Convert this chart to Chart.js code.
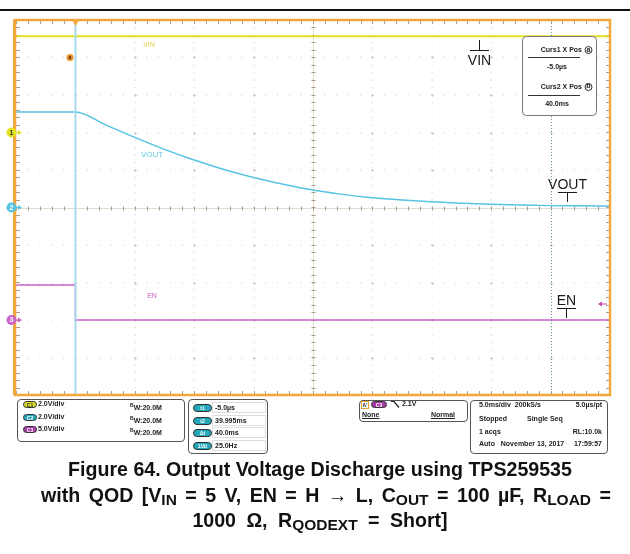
<!DOCTYPE html>
<html>
<head>
<meta charset="utf-8">
<script src="https://cdn.jsdelivr.net/npm/chart.js@4"></script>
<style>
  body { margin: 0; background: #fff; font-family: "Liberation Sans", Arial, sans-serif; }
  #wrap { position: relative; width: 630px; height: 554px; overflow: hidden; }
  #scope { position: absolute; left: 0; top: 0; }
  #topline { position: absolute; left: 0; top: 9px; width: 630px; height: 2px; background: #111; }
  .box { position: absolute; border: 1px solid #555; border-radius: 4px; background: #fff; box-sizing: border-box; }
  .t { position: absolute; font-size: 7px; font-weight: bold; color: #222; white-space: nowrap; line-height: 8px; }
  .r { text-align: right; }
  .pill { position: absolute; height: 7px; border-radius: 4px; font-size: 5px; color: #fff; text-align: center;
          line-height: 7px; font-weight: bold; box-sizing: border-box; border: 1px solid #333; }
  .field { position: absolute; height: 11px; border: 1px solid #ddd; box-sizing: border-box; }
  #caption { position: absolute; left: 0; top: 457px; width: 640px; text-align: center; font-weight: bold;
             font-size: 19.6px; line-height: 25.5px; color: #111; white-space: nowrap; }
  #caption sub { font-size: 15.5px; vertical-align: -3px; line-height: 0; }
  #caption .l2 { word-spacing: 3px; position: relative; left: 6px; }
  #caption .l3 { word-spacing: 5px; }
</style>
</head>
<body>
<div id="wrap">
  <canvas id="scope" width="630" height="554"></canvas>
  <div id="topline"></div>

  <!-- channel settings -->
  <div class="box" style="left:17px;top:399px;width:168px;height:43px;"></div>
  <div class="pill" style="left:23px;top:401px;width:14px;background:#d6d82c;color:#333;">C1</div>
  <div class="t" style="left:38px;top:400px;">2.0V/div</div>
  <div class="t" style="left:130px;top:401px;"><span style="font-size:5px;vertical-align:3px;">B</span>W:20.0M</div>
  <div class="pill" style="left:23px;top:414px;width:14px;background:#25a9ba;">C2</div>
  <div class="t" style="left:38px;top:413px;">2.0V/div</div>
  <div class="t" style="left:130px;top:414px;"><span style="font-size:5px;vertical-align:3px;">B</span>W:20.0M</div>
  <div class="pill" style="left:23px;top:426px;width:14px;background:#a63aa6;">C3</div>
  <div class="t" style="left:38px;top:425px;">5.0V/div</div>
  <div class="t" style="left:130px;top:426px;"><span style="font-size:5px;vertical-align:3px;">B</span>W:20.0M</div>

  <!-- cursor readouts -->
  <div class="box" style="left:188px;top:399px;width:80px;height:55px;"></div>
  <div class="field" style="left:212px;top:402px;width:54px;"></div>
  <div class="field" style="left:212px;top:415px;width:54px;"></div>
  <div class="field" style="left:212px;top:427px;width:54px;"></div>
  <div class="field" style="left:212px;top:440px;width:54px;"></div>
  <div class="pill" style="left:193px;top:404px;width:19px;height:8px;background:#25a9ba;">t1</div>
  <div class="t" style="left:215px;top:404px;">-5.0µs</div>
  <div class="pill" style="left:193px;top:417px;width:19px;height:8px;background:#25a9ba;">t2</div>
  <div class="t" style="left:215px;top:417px;">39.995ms</div>
  <div class="pill" style="left:193px;top:429px;width:19px;height:8px;background:#25a9ba;">Δt</div>
  <div class="t" style="left:215px;top:429px;">40.0ms</div>
  <div class="pill" style="left:193px;top:442px;width:19px;height:8px;background:#25a9ba;">1/Δt</div>
  <div class="t" style="left:215px;top:442px;">25.0Hz</div>

  <!-- trigger -->
  <div class="box" style="left:359px;top:400px;width:109px;height:22px;"></div>
  <div class="t" style="left:361px;top:401px;width:8px;height:8px;border:1px solid #f0a030;font-size:5px;line-height:7px;box-sizing:border-box;text-align:center;">A'</div>
  <div class="pill" style="left:371px;top:401px;width:16px;background:#a63aa6;">C3</div>
  <svg style="position:absolute;left:390px;top:400px;" width="12" height="9"><path d="M1 1.5 H4 L9 7.5" stroke="#222" stroke-width="1.2" fill="none"/></svg>
  <div class="t" style="left:402px;top:400px;">2.1V</div>
  <div class="t" style="left:362px;top:411px;text-decoration:underline;">None</div>
  <div class="t r" style="left:420px;top:411px;width:35px;text-decoration:underline;">Normal</div>

  <!-- acquisition -->
  <div class="box" style="left:470px;top:400px;width:138px;height:54px;"></div>
  <div class="t" style="left:479px;top:401px;">5.0ms/div&nbsp; 200kS/s</div>
  <div class="t r" style="left:552px;top:401px;width:50px;">5.0µs/pt</div>
  <div class="t" style="left:479px;top:415px;">Stopped</div>
  <div class="t" style="left:527px;top:415px;">Single Seq</div>
  <div class="t" style="left:479px;top:428px;">1 acqs</div>
  <div class="t r" style="left:552px;top:428px;width:50px;">RL:10.0k</div>
  <div class="t" style="left:479px;top:440px;">Auto&nbsp;&nbsp; November 13, 2017</div>
  <div class="t r" style="left:552px;top:440px;width:50px;">17:59:57</div>

  <div id="caption">Figure 64. Output Voltage Discharge using TPS259535<br><span class="l2">with QOD [V<sub>IN</sub> = 5 V, EN = H → L, C<sub>OUT</sub> = 100 µF, R<sub>LOAD</sub> =</span><br><span class="l3">1000 Ω, R<sub>QODEXT</sub> = Short]</span></div>
</div>

<script>
// time axis in ms, 5 ms/div, 10 divisions
const xMin = -5, xMax = 45;
const divisions = [-5, 5];

// channel setup: VIN, VOUT, EN
const channelNames = ["VIN", "VOUT", "EN"];
const voltsPerDiv = [2, 2, 5];
const offsetDiv = [2, 0, -3];
const channelColors = ["#e3df22", "#56c3e3", "#cc63c8"];

// VIN (ch1) stays flat
const vinTime = [-5, 45];
const vinV = [5.14, 5.14];

// VOUT (ch2) discharge after EN goes low
const voutTime = [-5, 0, 2.5, 5, 7.5, 10, 12.5, 15, 17.5, 20, 22.5, 25, 27.5, 30, 32.5, 35, 37.5, 40, 42.5, 45];
const voutV = [5.1, 5.1, 4.42, 3.74, 3.1, 2.53, 2.03, 1.6, 1.24, 0.93, 0.7, 0.52, 0.4, 0.31, 0.23, 0.17, 0.13, 0.1, 0.09, 0.08];

// EN (ch3) high -> low at t = 0
const enTime = [-5, 0, 0, 45];
const enV = [4.67, 4.67, 0, 0];

// cursor positions (ms)
const cursors = [-0.005, 40];

function toDiv(times, volts, ch) {
    return times.map((t, i) => ({ x: t, y: volts[i] / voltsPerDiv[ch] + offsetDiv[ch] }));
}

function roundRect(ctx, x, y, w, h, r) {
    ctx.beginPath();
    ctx.moveTo(x + r, y);
    ctx.arcTo(x + w, y, x + w, y + h, r);
    ctx.arcTo(x + w, y + h, x, y + h, r);
    ctx.arcTo(x, y + h, x, y, r);
    ctx.arcTo(x, y, x + w, y, r);
    ctx.closePath();
}

const graticule = {
    id: "graticule",
    beforeDatasetsDraw(chart) {
        const { ctx, chartArea: a } = chart;
        const xs = chart.scales.x, ys = chart.scales.y;
        ctx.save();
        // dotted grid
        ctx.fillStyle = "#d6d6d6";
        for (let t = xMin + 5; t < xMax; t += 5) {
            const px = Math.round(xs.getPixelForValue(t));
            for (let v = divisions[0]; v <= divisions[1] + 0.01; v += 0.2) {
                ctx.fillRect(px - 0.5, ys.getPixelForValue(v) - 0.5, 1.2, 1.2);
            }
        }
        for (let d = divisions[0] + 1; d < divisions[1]; d++) {
            const py = Math.round(ys.getPixelForValue(d));
            for (let t = xMin; t <= xMax; t += 1) {
                ctx.fillRect(xs.getPixelForValue(t) - 0.5, py - 0.5, 1.2, 1.2);
            }
        }
        // small crosses at intersections
        ctx.strokeStyle = "#cfcfcf";
        ctx.lineWidth = 1;
        for (let t = xMin + 5; t < xMax; t += 5) {
            for (let d = divisions[0] + 1; d < divisions[1]; d++) {
                const px = Math.round(xs.getPixelForValue(t)) + 0.5, py = Math.round(ys.getPixelForValue(d)) + 0.5;
                ctx.beginPath();
                ctx.moveTo(px - 1.5, py); ctx.lineTo(px + 1.5, py);
                ctx.moveTo(px, py - 1.5); ctx.lineTo(px, py + 1.5);
                ctx.stroke();
            }
        }
        // centre lines with ticks
        const cx = Math.round(xs.getPixelForValue(20)) + 0.5;
        const cy = Math.round(ys.getPixelForValue(0)) + 0.5;
        ctx.strokeStyle = "#e2dcd2";
        ctx.beginPath();
        ctx.moveTo(a.left, cy); ctx.lineTo(a.right, cy);
        ctx.moveTo(cx, a.top); ctx.lineTo(cx, a.bottom);
        ctx.stroke();
        ctx.strokeStyle = "#a89d8c";
        ctx.beginPath();
        for (let t = xMin; t <= xMax; t += 1) {
            const px = Math.round(xs.getPixelForValue(t)) + 0.5;
            ctx.moveTo(px, cy - 2); ctx.lineTo(px, cy + 2);
            ctx.moveTo(px, a.top); ctx.lineTo(px, a.top + 4);
            ctx.moveTo(px, a.bottom); ctx.lineTo(px, a.bottom - 4);
        }
        for (let v = divisions[0]; v <= divisions[1] + 0.01; v += 0.2) {
            const py = Math.round(ys.getPixelForValue(v)) + 0.5;
            ctx.moveTo(cx - 2, py); ctx.lineTo(cx + 2, py);
            ctx.moveTo(a.left, py); ctx.lineTo(a.left + 4, py);
            ctx.moveTo(a.right, py); ctx.lineTo(a.right - 4, py);
        }
        ctx.stroke();
        ctx.restore();
    },
    afterDatasetsDraw(chart) {
        const { ctx, chartArea: a } = chart;
        const xs = chart.scales.x, ys = chart.scales.y;
        ctx.save();

        // cursors
        const c1 = Math.round(xs.getPixelForValue(cursors[0])) + 0.5;
        const c2 = Math.round(xs.getPixelForValue(cursors[1])) + 0.5;
        ctx.strokeStyle = "#a9dbee";
        ctx.lineWidth = 2;
        ctx.beginPath(); ctx.moveTo(c1, a.top); ctx.lineTo(c1, a.bottom); ctx.stroke();
        ctx.strokeStyle = "#6f97a3";
        ctx.lineWidth = 1;
        ctx.setLineDash([1, 2]);
        ctx.beginPath(); ctx.moveTo(c2, a.top); ctx.lineTo(c2, a.bottom); ctx.stroke();
        ctx.setLineDash([]);

        // trace labels on screen
        ctx.textAlign = "center";
        ctx.textBaseline = "middle";
        ctx.font = "7px 'Liberation Sans'";
        ctx.fillStyle = "#ddd444"; ctx.fillText("VIN", 149, 45);
        ctx.font = "8px 'Liberation Sans'";
        ctx.fillStyle = "#62c6e6"; ctx.fillText("VOUT", 152, 155);
        ctx.font = "7px 'Liberation Sans'";
        ctx.fillStyle = "#c860c4"; ctx.fillText("EN", 152, 296);

        // cursor a marker
        ctx.fillStyle = "#e8912a";
        ctx.beginPath(); ctx.arc(70, 57.5, 3.5, 0, Math.PI * 2); ctx.fill();
        ctx.fillStyle = "#3b2608";
        ctx.font = "bold 5px 'Liberation Sans'";
        ctx.fillText("a", 70, 57.5);

        // big black labels with ground symbols
        ctx.fillStyle = "#1a1a1a";
        ctx.strokeStyle = "#1a1a1a";
        ctx.lineWidth = 1;
        ctx.font = "14px 'Liberation Sans'";
        ctx.fillText("VIN", 479.5, 61);
        ctx.beginPath();
        ctx.moveTo(479.5, 40); ctx.lineTo(479.5, 50.5);
        ctx.moveTo(470, 50.5); ctx.lineTo(489, 50.5);
        ctx.stroke();
        ctx.fillText("VOUT", 567.5, 185);
        ctx.beginPath();
        ctx.moveTo(558, 192.5); ctx.lineTo(577, 192.5);
        ctx.moveTo(567.5, 192.5); ctx.lineTo(567.5, 202);
        ctx.stroke();
        ctx.fillText("EN", 566.5, 301);
        ctx.beginPath();
        ctx.moveTo(557, 308.5); ctx.lineTo(576, 308.5);
        ctx.moveTo(566.5, 308.5); ctx.lineTo(566.5, 318);
        ctx.stroke();

        // trigger level arrow (right)
        ctx.fillStyle = "#c447b8";
        ctx.strokeStyle = "#c447b8";
        ctx.beginPath(); ctx.moveTo(598, 304); ctx.lineTo(602, 301.5); ctx.lineTo(602, 306.5); ctx.closePath(); ctx.fill();
        ctx.beginPath(); ctx.moveTo(602, 304); ctx.lineTo(607, 304); ctx.stroke();

        // cursor readout box
        ctx.fillStyle = "#fff";
        ctx.strokeStyle = "#777";
        roundRect(ctx, 522.5, 36.5, 74, 79, 4);
        ctx.fill(); ctx.stroke();
        ctx.fillStyle = "#222";
        ctx.font = "bold 7px 'Liberation Sans'";
        ctx.textAlign = "right";
        ctx.fillText("Curs1 X Pos", 582, 50);
        ctx.fillText("Curs2 X Pos", 582, 87);
        ctx.textAlign = "center";
        ctx.fillText("-5.0µs", 557, 67);
        ctx.fillText("40.0ms", 557, 104);
        ctx.strokeStyle = "#333";
        ctx.beginPath();
        ctx.moveTo(528, 57.5); ctx.lineTo(580, 57.5);
        ctx.moveTo(528, 95.5); ctx.lineTo(580, 95.5);
        ctx.stroke();
        ctx.beginPath(); ctx.arc(588.5, 50, 3.5, 0, Math.PI * 2); ctx.stroke();
        ctx.beginPath(); ctx.arc(588.5, 87, 3.5, 0, Math.PI * 2); ctx.stroke();
        ctx.fillText("a", 588.5, 50);
        ctx.fillText("b", 588.5, 86.5);

        // frame
        ctx.strokeStyle = "#f1a73c";
        ctx.lineWidth = 2.5;
        ctx.strokeRect(a.left - 1, a.top, a.right - a.left + 1, a.bottom - a.top);
        ctx.fillStyle = "#f1a73c";
        ctx.fillRect(a.left - 3, a.top, 2, a.bottom - a.top);

        // trigger position marker (top)
        ctx.beginPath();
        ctx.moveTo(c1 - 3.5, a.top); ctx.lineTo(c1 + 3.5, a.top); ctx.lineTo(c1, a.top + 6);
        ctx.closePath(); ctx.fill();

        // channel ground markers (left)
        ctx.font = "bold 7px 'Liberation Sans'";
        ctx.textAlign = "center";
        for (let ch = 0; ch < 3; ch++) {
            const py = ys.getPixelForValue(offsetDiv[ch]);
            ctx.fillStyle = channelColors[ch];
            ctx.beginPath(); ctx.arc(11.5, py, 5, 0, Math.PI * 2); ctx.fill();
            ctx.beginPath(); ctx.moveTo(22, py); ctx.lineTo(18, py - 2.5); ctx.lineTo(18, py + 2.5); ctx.closePath(); ctx.fill();
            ctx.fillRect(16, py - 0.5, 3, 1);
            ctx.fillStyle = ch === 0 ? "#333" : "#fff";
            ctx.fillText(String(ch + 1), 11.5, py + 0.5);
        }
        ctx.restore();
    }
};

new Chart(document.getElementById("scope"), {
    type: "line",
    data: {
        datasets: [
            { label: channelNames[0], data: toDiv(vinTime, vinV, 0), borderColor: channelColors[0], borderWidth: 2 },
            { label: channelNames[1], data: toDiv(voutTime, voutV, 1), borderColor: channelColors[1], borderWidth: 1.5, cubicInterpolationMode: "monotone" },
            { label: channelNames[2], data: toDiv(enTime, enV, 2), borderColor: channelColors[2], borderWidth: 1.5 }
        ]
    },
    options: {
        responsive: false,
        animation: false,
        devicePixelRatio: 1,
        layout: { padding: { left: 16, top: 20, right: 20, bottom: 159 } },
        elements: { point: { radius: 0 } },
        plugins: { legend: { display: false }, tooltip: { enabled: false } },
        scales: {
            x: { type: "linear", min: xMin, max: xMax, display: false },
            y: { type: "linear", min: divisions[0], max: divisions[1], display: false }
        }
    },
    plugins: [graticule]
});
</script>
</body>
</html>
